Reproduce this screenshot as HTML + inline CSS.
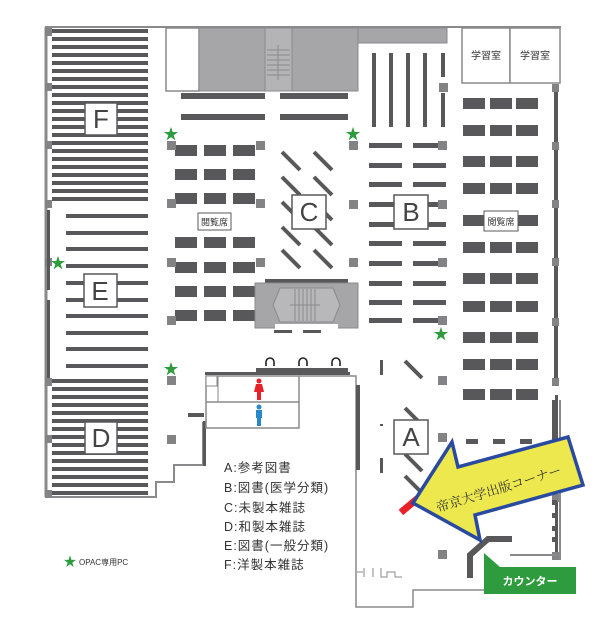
<!DOCTYPE html>
<html><head><meta charset="utf-8"><style>
html,body{margin:0;padding:0;background:#fff;}
svg{display:block;}
text{font-family:"Liberation Sans","Noto Sans CJK JP",sans-serif;}
text.serif{font-family:"Liberation Serif","Noto Serif CJK SC",serif;}
</style></head><body>
<svg width="604" height="626" viewBox="0 0 604 626" xmlns="http://www.w3.org/2000/svg">
<defs>
<g id="tbl"><rect width="22" height="11" fill="#58585a"/></g>
<g id="pil"><rect width="9" height="9" fill="#838385"/></g>
</defs>
<line x1="45" y1="27" x2="561" y2="27" stroke="#8a8a8c" stroke-width="2"/>
<line x1="46" y1="27" x2="46" y2="497" stroke="#8a8a8c" stroke-width="3"/>
<polyline points="45,497 156,497 156,482 174,482 174,465 203,465 203,422" fill="none" stroke="#8a8a8c" stroke-width="2"/>
<rect x="188" y="413" width="16" height="4" fill="#58585a"/>
<rect x="203" y="421" width="3" height="45" fill="#58585a"/>
<line x1="556" y1="27" x2="556" y2="83" stroke="#8a8a8c" stroke-width="2"/>
<rect x="554" y="85" width="4" height="300" fill="#58585a"/>
<rect x="552" y="84" width="7" height="8" fill="#838385"/>
<rect x="552" y="142" width="7" height="8" fill="#838385"/>
<rect x="552" y="200" width="7" height="8" fill="#838385"/>
<rect x="552" y="258" width="7" height="8" fill="#838385"/>
<rect x="552" y="318" width="7" height="8" fill="#838385"/>
<rect x="552" y="378" width="7" height="8" fill="#838385"/>
<rect x="555" y="395" width="3" height="160" fill="#58585a"/>
<line x1="560" y1="400" x2="560" y2="560" stroke="#8a8a8c" stroke-width="2"/>
<rect x="552" y="494" width="7" height="8" fill="#838385"/>
<rect x="552" y="552" width="7" height="8" fill="#838385"/>
<line x1="510" y1="555" x2="560" y2="555" stroke="#8a8a8c" stroke-width="2"/>
<rect x="45" y="28" width="7" height="8" fill="#838385"/>
<rect x="45" y="83" width="7" height="8" fill="#838385"/>
<rect x="45" y="141" width="7" height="8" fill="#838385"/>
<rect x="45" y="200" width="7" height="8" fill="#838385"/>
<rect x="45" y="258" width="7" height="8" fill="#838385"/>
<rect x="45" y="378" width="7" height="8" fill="#838385"/>
<rect x="45" y="435" width="7" height="8" fill="#838385"/>
<rect x="45" y="490" width="7" height="8" fill="#838385"/>
<g fill="#58585a">
<rect x="52" y="29" width="96" height="4"/><rect x="52" y="37" width="96" height="4"/><rect x="52" y="45" width="96" height="4"/><rect x="52" y="53" width="96" height="4"/><rect x="52" y="61" width="96" height="4"/><rect x="52" y="69" width="96" height="4"/><rect x="52" y="77" width="96" height="4"/><rect x="52" y="85" width="96" height="4"/><rect x="52" y="93" width="96" height="4"/><rect x="52" y="101" width="96" height="4"/><rect x="52" y="109" width="96" height="4"/><rect x="52" y="117" width="96" height="4"/><rect x="52" y="125" width="96" height="4"/><rect x="52" y="133" width="96" height="4"/><rect x="52" y="141" width="96" height="4"/><rect x="52" y="149" width="96" height="4"/><rect x="52" y="157" width="96" height="4"/><rect x="52" y="165" width="96" height="4"/><rect x="52" y="173" width="96" height="4"/><rect x="52" y="181" width="96" height="4"/><rect x="52" y="189" width="96" height="4"/><rect x="52" y="197" width="96" height="4"/>
<rect x="66" y="214" width="82" height="4"/><rect x="66" y="231" width="82" height="4"/><rect x="66" y="247" width="82" height="4"/><rect x="66" y="264" width="82" height="4"/><rect x="66" y="281" width="82" height="4"/><rect x="66" y="298" width="82" height="4"/><rect x="66" y="314" width="82" height="4"/><rect x="66" y="331" width="82" height="4"/><rect x="66" y="347" width="82" height="4"/><rect x="66" y="364" width="82" height="4"/>
<rect x="47" y="210" width="3" height="80"/><rect x="47" y="300" width="3" height="78"/>
<rect x="52" y="379" width="96" height="4"/><rect x="52" y="387" width="96" height="4"/><rect x="52" y="395" width="96" height="4"/><rect x="52" y="403" width="96" height="4"/><rect x="52" y="411" width="96" height="4"/><rect x="52" y="419" width="96" height="4"/><rect x="52" y="427" width="96" height="4"/><rect x="52" y="435" width="96" height="4"/><rect x="52" y="443" width="96" height="4"/><rect x="52" y="451" width="96" height="4"/><rect x="52" y="459" width="96" height="4"/><rect x="52" y="467" width="96" height="4"/><rect x="52" y="475" width="96" height="4"/><rect x="52" y="483" width="96" height="4"/><rect x="52" y="491" width="96" height="4"/>
</g>
<g fill="#fff" stroke="#58585a" stroke-width="1.5">
<rect x="85" y="103" width="32" height="32"/><rect x="84" y="274" width="33" height="33"/><rect x="85" y="422" width="32" height="32"/>
</g>
<g font-size="26" fill="#444" text-anchor="middle">
<text x="101" y="128">F</text><text x="100" y="300">E</text><text x="101" y="447">D</text>
</g>
<rect x="166" y="28" width="33" height="63" fill="#fff" stroke="#8a8a8c" stroke-width="1.5"/>
<rect x="199" y="28" width="66" height="63" fill="#a6a6a8" stroke="#8a8a8c"/>
<rect x="265" y="28" width="27" height="63" fill="#b4b4b6" stroke="#8a8a8c"/>
<g stroke="#8a8a8c" stroke-width="1"><line x1="267" y1="50" x2="290" y2="50"/><line x1="267" y1="55" x2="290" y2="55"/><line x1="267" y1="60" x2="290" y2="60"/><line x1="267" y1="65" x2="290" y2="65"/><line x1="267" y1="70" x2="290" y2="70"/><line x1="267" y1="75" x2="290" y2="75"/><line x1="278" y1="45" x2="278" y2="80"/></g>
<rect x="292" y="28" width="66" height="63" fill="#a6a6a8" stroke="#8a8a8c"/>
<rect x="358" y="28" width="89" height="15" fill="#a6a6a8" stroke="#8a8a8c"/>
<rect x="462" y="28" width="48" height="55" fill="#fff" stroke="#8a8a8c" stroke-width="1.5"/>
<rect x="510" y="28" width="50" height="55" fill="#fff" stroke="#8a8a8c" stroke-width="1.5"/>
<text x="486" y="59" font-size="10" text-anchor="middle" fill="#333">学習室</text>
<text x="535" y="59" font-size="10" text-anchor="middle" fill="#333">学習室</text>
<g fill="#58585a">
<rect x="181" y="93" width="84" height="6"/><rect x="280" y="93" width="68" height="6"/>
<rect x="181" y="114" width="84" height="6"/><rect x="280" y="114" width="68" height="6"/>
<rect x="372" y="53" width="4" height="74"/><rect x="389" y="53" width="4" height="74"/><rect x="406" y="53" width="4" height="74"/><rect x="423" y="53" width="4" height="74"/><rect x="441" y="53" width="4" height="24"/><rect x="441" y="93" width="4" height="34"/>
</g>
<use href="#pil" x="439" y="83"/>
<g>
<use href="#tbl" x="175" y="145"/><use href="#tbl" x="204" y="145"/><use href="#tbl" x="233" y="145"/>
<use href="#tbl" x="175" y="169"/><use href="#tbl" x="204" y="169"/><use href="#tbl" x="233" y="169"/>
<use href="#tbl" x="175" y="193"/><use href="#tbl" x="204" y="193"/><use href="#tbl" x="233" y="193"/>
<use href="#tbl" x="175" y="237"/><use href="#tbl" x="204" y="237"/><use href="#tbl" x="233" y="237"/>
<use href="#tbl" x="175" y="262"/><use href="#tbl" x="204" y="262"/><use href="#tbl" x="233" y="262"/>
<use href="#tbl" x="175" y="286"/><use href="#tbl" x="204" y="286"/><use href="#tbl" x="233" y="286"/>
<use href="#tbl" x="175" y="310"/><use href="#tbl" x="204" y="310"/><use href="#tbl" x="233" y="310"/>
</g>
<use href="#pil" x="167" y="141"/><use href="#pil" x="256" y="141"/>
<use href="#pil" x="167" y="199"/><use href="#pil" x="256" y="199"/>
<use href="#pil" x="167" y="258"/><use href="#pil" x="256" y="258"/>
<use href="#pil" x="167" y="316"/><use href="#pil" x="167" y="376"/><use href="#pil" x="167" y="435"/>
<rect x="198" y="213" width="33" height="17" fill="#fff" stroke="#58585a"/>
<text x="214.5" y="225.5" font-size="9" text-anchor="middle" fill="#333">閲覧席</text>
<g stroke="#58585a" stroke-width="4">
<line x1="282" y1="152" x2="300" y2="170"/><line x1="314" y1="152" x2="332" y2="170"/>
<line x1="282" y1="177" x2="300" y2="195"/><line x1="314" y1="177" x2="332" y2="195"/>
<line x1="282" y1="202" x2="300" y2="220"/><line x1="314" y1="202" x2="332" y2="220"/>
<line x1="282" y1="227" x2="300" y2="245"/><line x1="314" y1="227" x2="332" y2="245"/>
<line x1="282" y1="250" x2="300" y2="268"/><line x1="314" y1="250" x2="332" y2="268"/>
</g>
<rect x="292" y="195" width="34" height="34" fill="#fff" stroke="#58585a" stroke-width="1.5"/>
<text x="309" y="221" font-size="26" text-anchor="middle" fill="#444">C</text>
<use href="#pil" x="349" y="141"/><use href="#pil" x="349" y="200"/><use href="#pil" x="349" y="258"/>
<rect x="265" y="279" width="83" height="4" fill="#58585a"/>
<rect x="255" y="283" width="103" height="45" fill="#a6a6a8" stroke="#8a8a8c"/>
<polygon points="280,288 333,288 340,305 333,322 280,322 273,305" fill="#b8b8ba" stroke="#8a8a8c"/>
<g stroke="#8a8a8c"><line x1="295" y1="289" x2="295" y2="321"/><line x1="299" y1="289" x2="299" y2="321"/><line x1="303" y1="289" x2="303" y2="321"/><line x1="307" y1="289" x2="307" y2="321"/><line x1="311" y1="289" x2="311" y2="321"/><line x1="315" y1="289" x2="315" y2="321"/><line x1="290" y1="305" x2="320" y2="305"/></g>
<rect x="275" y="324" width="63" height="6" fill="#fff"/>
<rect x="274" y="330" width="18" height="3" fill="#58585a"/><rect x="303" y="330" width="18" height="3" fill="#58585a"/>
<g fill="#58585a">
<rect x="369" y="143" width="33" height="5"/><rect x="413" y="143" width="33" height="5"/>
<rect x="369" y="163" width="33" height="5"/><rect x="413" y="163" width="33" height="5"/>
<rect x="369" y="182" width="33" height="5"/><rect x="413" y="182" width="33" height="5"/>
<rect x="369" y="202" width="33" height="5"/><rect x="413" y="202" width="33" height="5"/>
<rect x="369" y="222" width="33" height="5"/><rect x="413" y="222" width="33" height="5"/>
<rect x="369" y="241" width="33" height="5"/><rect x="413" y="241" width="33" height="5"/>
<rect x="369" y="261" width="33" height="5"/><rect x="413" y="261" width="33" height="5"/>
<rect x="369" y="281" width="33" height="5"/><rect x="413" y="281" width="33" height="5"/>
<rect x="369" y="300" width="33" height="5"/><rect x="413" y="300" width="33" height="5"/>
<rect x="369" y="318" width="33" height="5"/><rect x="413" y="318" width="33" height="5"/>
</g>
<rect x="394" y="195" width="34" height="34" fill="#fff" stroke="#58585a" stroke-width="1.5"/>
<text x="411" y="221" font-size="26" text-anchor="middle" fill="#444">B</text>
<use href="#pil" x="438" y="141"/><use href="#pil" x="438" y="200"/><use href="#pil" x="438" y="258"/><use href="#pil" x="438" y="316"/>
<g>
<use href="#tbl" x="463" y="98"/><use href="#tbl" x="490" y="98"/><use href="#tbl" x="516" y="98"/>
<use href="#tbl" x="463" y="125"/><use href="#tbl" x="490" y="125"/><use href="#tbl" x="516" y="125"/>
<use href="#tbl" x="463" y="156"/><use href="#tbl" x="490" y="156"/><use href="#tbl" x="516" y="156"/>
<use href="#tbl" x="463" y="183"/><use href="#tbl" x="490" y="183"/><use href="#tbl" x="516" y="183"/>
<use href="#tbl" x="463" y="215"/><use href="#tbl" x="516" y="215"/>
<use href="#tbl" x="463" y="242"/><use href="#tbl" x="490" y="242"/><use href="#tbl" x="516" y="242"/>
<use href="#tbl" x="463" y="273"/><use href="#tbl" x="490" y="273"/><use href="#tbl" x="516" y="273"/>
<use href="#tbl" x="463" y="301"/><use href="#tbl" x="490" y="301"/><use href="#tbl" x="516" y="301"/>
<use href="#tbl" x="463" y="332"/><use href="#tbl" x="490" y="332"/><use href="#tbl" x="516" y="332"/>
<use href="#tbl" x="463" y="359"/><use href="#tbl" x="490" y="359"/><use href="#tbl" x="516" y="359"/>
<use href="#tbl" x="463" y="389"/><use href="#tbl" x="490" y="389"/><use href="#tbl" x="516" y="389"/>
</g>
<rect x="484" y="211" width="34" height="20" fill="#fff" stroke="#58585a"/>
<text x="501" y="225" font-size="9" text-anchor="middle" fill="#333">閲覧席</text>
<rect x="205" y="372" width="145" height="3" fill="#58585a"/>
<rect x="256" y="368" width="92" height="5" fill="#58585a"/>
<rect x="206" y="376" width="93" height="52" fill="#fff" stroke="#8a8a8c" stroke-width="1.5"/>
<line x1="206" y1="402" x2="299" y2="402" stroke="#8a8a8c" stroke-width="1.5"/>
<rect x="206" y="376" width="11" height="10" fill="#fff" stroke="#8a8a8c"/>
<line x1="218" y1="376" x2="218" y2="402" stroke="#8a8a8c"/>
<g fill="#e8202a"><circle cx="259" cy="381" r="2.5"/><path d="M256,384 h6 l2,8 h-3 v8 h-4 v-8 h-3z"/></g>
<g fill="#2a88c8"><circle cx="259" cy="407" r="2.5"/><path d="M256,410 h6 v8 h-1 v8 h-4 v-8 h-1z"/></g>
<g fill="none" stroke="#222" stroke-width="1.6">
<path d="M266,366 v-4 a4,4 0 0 1 8,0 v4"/><path d="M299,366 v-4 a4,4 0 0 1 8,0 v4"/><path d="M332,366 v-4 a4,4 0 0 1 8,0 v4"/>
</g>
<polyline points="299,376 356,376 356,607 413,607 413,590 485,590" fill="none" stroke="#8a8a8c" stroke-width="1.5"/>
<rect x="356" y="385" width="4" height="85" fill="#58585a"/>
<g stroke="#8a8a8c" fill="none" stroke-width="1"><path d="M357,572 h6 M364,568 v9 M373,568 v9 M381,568 v9 h6 v-5 h8 v5 h7 M387,572 h8"/></g>
<g fill="#58585a">
<rect x="380" y="360" width="3" height="15"/><rect x="380" y="424" width="3" height="2"/><rect x="380" y="458" width="3" height="15"/>
<rect x="466" y="439" width="12" height="5"/><rect x="493" y="439" width="12" height="5"/><rect x="520" y="439" width="12" height="5"/>
<rect x="552" y="400" width="5" height="40"/>
<rect x="552" y="500" width="5" height="5"/><rect x="552" y="513" width="5" height="5"/><rect x="552" y="526" width="5" height="5"/><rect x="552" y="537" width="5" height="5"/>
</g>
<g stroke="#58585a" stroke-width="4">
<line x1="405" y1="361" x2="422" y2="378"/><line x1="405" y1="408" x2="422" y2="425"/><line x1="405" y1="454" x2="422" y2="471"/><line x1="405" y1="476" x2="422" y2="493"/>
</g>
<use href="#pil" x="438" y="376"/><use href="#pil" x="438" y="433"/><use href="#pil" x="438" y="550"/>
<rect x="394" y="420" width="34" height="34" fill="#fff" stroke="#58585a" stroke-width="1.5"/>
<text x="411" y="446" font-size="26" text-anchor="middle" fill="#444">A</text>
<rect x="398" y="502" width="22" height="7" fill="#e8202a" transform="rotate(-40 409 505)"/>
<polyline points="470,578 470,555 488,539 512,539" fill="none" stroke="#58585a" stroke-width="6"/>
<polygon points="484,553 500,567 484,567" fill="#2e9c3e"/>
<rect x="484" y="567" width="92" height="27" fill="#2e9c3e"/>
<text x="530" y="585" font-size="11" font-weight="bold" fill="#fff" text-anchor="middle">カウンター</text>
<polygon points="413,503 452,442 458,467 568,437 583,485 475,515 480,540" fill="#ece84e" stroke="#2a4aa0" stroke-width="3.5" stroke-linejoin="miter"/>
<text class="serif" x="0" y="0" font-size="13" fill="#333" transform="translate(438,512) rotate(-17)">帝京大学出版コーナー</text>
<g fill="#2e9c3e" font-size="15" text-anchor="middle">
<text x="171" y="139">★</text><text x="353" y="139">★</text><text x="58" y="268">★</text><text x="171" y="374">★</text><text x="441" y="339">★</text>
<text x="70" y="566" font-size="13">★</text>
</g>
<text x="79" y="565" font-size="8" fill="#333">OPAC専用PC</text>
<g font-size="12.5" fill="#333" letter-spacing="1">
<text x="224" y="472">A:参考図書</text>
<text x="224" y="492">B:図書(医学分類)</text>
<text x="224" y="512">C:未製本雑誌</text>
<text x="224" y="531">D:和製本雑誌</text>
<text x="224" y="550">E:図書(一般分類)</text>
<text x="224" y="569">F:洋製本雑誌</text>
</g>
</svg>
</body></html>
